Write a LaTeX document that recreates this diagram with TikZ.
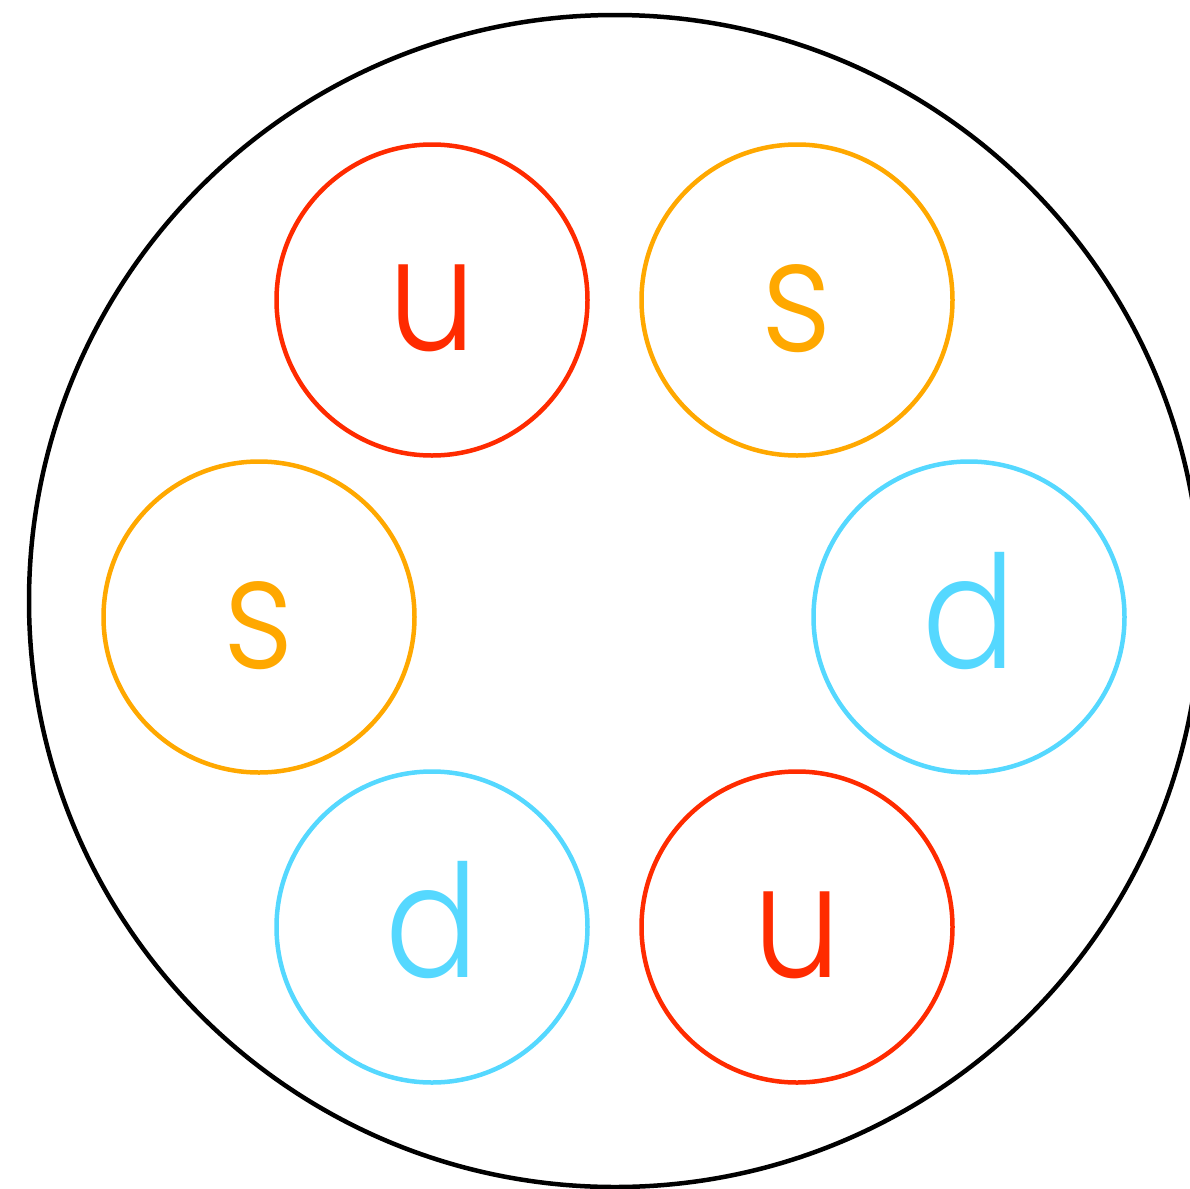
\documentclass[tikz,border=0pt]{standalone}
\usepackage{fontspec}
\setmainfont{Poppins}[UprightFont=* Light,FakeStretch=0.88]
\definecolor{qred}{RGB}{255,43,0}
\definecolor{qorange}{RGB}{255,168,0}
\definecolor{qcyan}{RGB}{85,216,255}
\begin{document}
\begin{tikzpicture}[x=1pt,y=-1pt,
  quark/.style={circle,draw=#1,line width=4.5pt,minimum size=311pt,inner sep=0pt},
  qlabel/.style={text=#1,anchor=base,inner sep=0pt,font=\fontsize{157}{157}\selectfont}]
\useasboundingbox (0,0) rectangle (1189,1189);
\node[circle,draw=black,line width=4.5pt,minimum size=1172pt,inner sep=0pt] (hadron) at (615,601) {};
\node[quark=qred] (u1) at (432,300) {};
\node[quark=qorange] (s1) at (797,300) {};
\node[quark=qorange] (s2) at (259,617) {};
\node[quark=qcyan] (d1) at (969,617) {};
\node[quark=qcyan] (d2) at (432,927) {};
\node[quark=qred] (u2) at (797,927) {};
\node[qlabel=qred] (lu1) at (432,350) {u};
\node[qlabel=qorange] (ls1) at (797,351) {s};
\node[qlabel=qorange] (ls2) at (259,668) {s};
\node[qlabel=qcyan] (ld1) at (969,668) {d};
\node[qlabel=qcyan] (ld2) at (432,977) {d};
\node[qlabel=qred] (lu2) at (797,977) {u};
\end{tikzpicture}
\end{document}
